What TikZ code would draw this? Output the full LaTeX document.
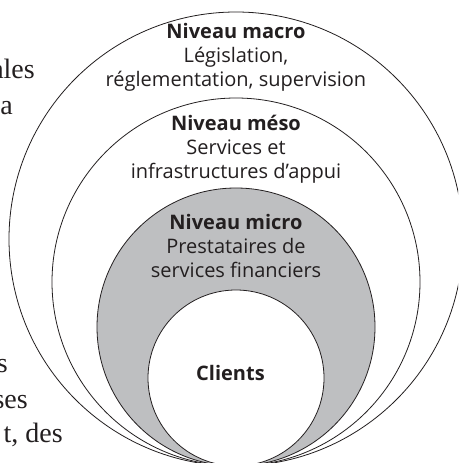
\documentclass[tikz,border=0pt]{standalone}
\usepackage{fontspec}
\setmainfont{Liberation Serif}
\newfontfamily\dinfont{Open Sans}
\usetikzlibrary{positioning}
\definecolor{microgray}{HTML}{BEBFC1}
\definecolor{ink}{HTML}{231F20}
\tikzstyle{ring} = [draw=ink, line width=0.8pt]
\tikzstyle{lvl} = [text=ink, inner sep=0pt, text height=14pt, text depth=5pt,
    font=\dinfont\fontsize{20}{24}\selectfont]
\tikzstyle{head} = [lvl, font=\dinfont\bfseries\fontsize{20}{24}\selectfont]
\tikzstyle{margin} = [anchor=base east, inner sep=0pt, text=ink,
    font=\fontsize{28}{34}\selectfont]

\begin{document}
\begin{tikzpicture}[x=1pt,y=-1pt,node distance=24pt]
  \useasboundingbox (0,0) rectangle (458,463);
  \clip (0,0) rectangle (458,463);

  % page text cut off by the figure
  \node[margin] (m1) at (35,78) {ales};
  \node[margin] (m2) at (13,114) {a};
  \node[margin] (m3) at (8,372) {s};
  \node[margin] (m4) at (28,408) {ses};
  \node[margin] (m5) at (63,442) {t, des};

  % levels, all touching at the bottom
  \filldraw[ring, fill=white] (236,239) circle (227pt);
  \filldraw[ring, fill=white] (236,282) circle (184pt);
  \filldraw[ring, fill=microgray] (236,327) circle (139pt);
  \filldraw[ring, fill=white] (236,378) circle (88pt);

  \node[head] (macro) at (236,33.5) {Niveau macro};
  \node[lvl] (macro2) [below of=macro] {Législation,};
  \node[lvl] (macro3) [below of=macro2] {réglementation, supervision};

  \node[head] (meso) at (236,125.5) {Niveau méso};
  \node[lvl] (meso2) [below of=meso] {Services et};
  \node[lvl] (meso3) [below of=meso2] {infrastructures d’appui};

  \node[head] (micro) at (236,224.5) {Niveau micro};
  \node[lvl] (micro2) [below of=micro] {Prestataires de};
  \node[lvl] (micro3) [below of=micro2] {services financiers};

  \node[head] (clients) at (230.5,375.5) {Clients};
\end{tikzpicture}
\end{document}
